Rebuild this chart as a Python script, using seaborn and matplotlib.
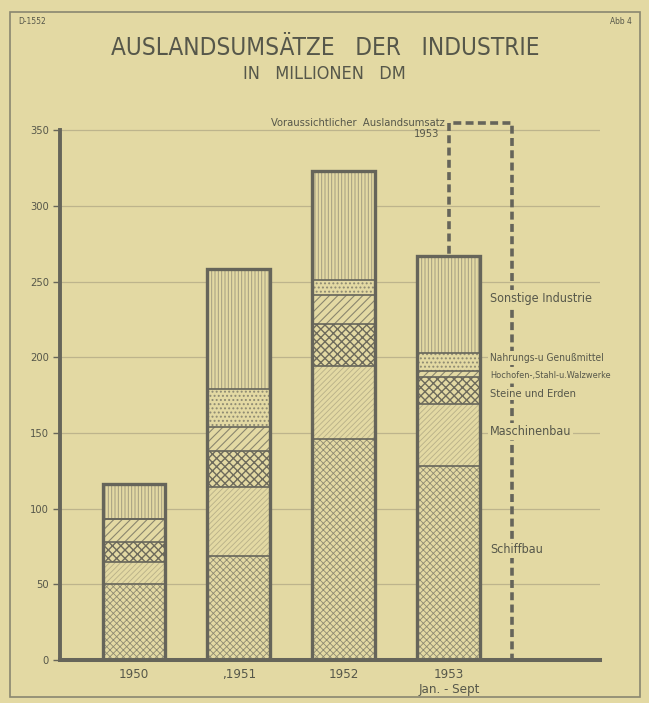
import numpy as np
import pandas as pd
import matplotlib
matplotlib.use("Agg")
import matplotlib.pyplot as plt
import seaborn as sns
from matplotlib.patches import Rectangle

# ---------------- data ----------------
year_labels = ["1950", ",1951", "1952", "1953\nJan. - Sept"]
positions = [0, 1, 2, 3]
categories = ["Schiffbau", "Maschinenbau", "Steine und Erden",
              "Hochofen-,Stahl-u.Walzwerke", "Nahrungs-u Genußmittel",
              "Sonstige Industrie"]
schiffbau = [50, 69, 146, 128]
maschinenbau = [15, 45, 48, 41]
steine = [13, 24, 28, 18]
hochofen = [15, 16, 19, 4]
nahrungs = [0, 25, 10, 12]
sonstige = [23, 79, 72, 64]
projected_1953 = [355]
y_ticks = [0, 50, 100, 150, 200, 250, 300, 350]

# ---------------- style ----------------
BG = "#e3d9a3"
TXT = "#56574a"
EDGE = "#66655a"
GRID = "#bdb48c"

sns.set_theme(style="white")
plt.rcParams["font.family"] = ["DejaVu Sans"]
plt.rcParams["font.stretch"] = "condensed"

fig = plt.figure(figsize=(6.49, 7.03), dpi=100, facecolor=BG)
ax = fig.add_axes([60 / 649, 43 / 703, 540 / 649, 545 / 703])
ax.set_facecolor(BG)

segments = [schiffbau, maschinenbau, steine, hochofen, nahrungs, sonstige]
cum = np.cumsum(np.array(segments, dtype=float), axis=0)

hatches = ["xxxxx", "//////", "xxxx", "////", "....", "|||||"]
hatch_cols = ["#8e8a72", "#b8b088", "#6e6b5b", "#8a866e", "#8e8a72", "#a39d80"]
hatch_lws = [0.6, 0.6, 1.0, 0.8, 0.9, 0.7]

# projected (dashed) bar, drawn behind the 1953 bar
df_proj = pd.DataFrame({"x": [positions[3] + 0.3], "y": projected_1953})
sns.barplot(data=df_proj, x="x", y="y", native_scale=True, width=0.6,
            errorbar=None, fill=False, color=EDGE, edgecolor=EDGE,
            linewidth=2.6, linestyle=(0, (2.2, 1.2)), ax=ax, zorder=2)

# hatched fills, from the top cumulative down
for k in range(len(segments) - 1, -1, -1):
    with plt.rc_context({"hatch.linewidth": hatch_lws[k]}):
        sns.barplot(x=positions, y=cum[k], native_scale=True, width=0.6,
                    errorbar=None, color=BG, facecolor=BG,
                    edgecolor=hatch_cols[k], linewidth=0, hatch=hatches[k],
                    ax=ax, zorder=3)

# outlines
for k in range(len(segments)):
    lw = 2.4 if k == len(segments) - 1 else 1.2
    sns.barplot(x=positions, y=cum[k], native_scale=True, width=0.6,
                errorbar=None, fill=False, color=EDGE, edgecolor=EDGE,
                linewidth=lw, ax=ax, zorder=4)

# axes styling
ax.set_xlim(-0.705, 4.44)
ax.set_ylim(0, 360)
ax.set_yticks(y_ticks)
ax.set_yticklabels([str(v) for v in y_ticks])
ax.set_xticks(positions)
ax.set_xticklabels(year_labels)
ax.set_xlabel("")
ax.set_ylabel("")
ax.grid(axis="y", color=GRID, linewidth=0.9)
ax.grid(axis="x", visible=False)
ax.set_axisbelow(True)
for s in ["top", "right"]:
    ax.spines[s].set_visible(False)
ax.spines["left"].set_bounds(0, 350)
ax.spines["left"].set_linewidth(2.8)
ax.spines["left"].set_color(EDGE)
ax.spines["bottom"].set_linewidth(2.9)
ax.spines["bottom"].set_color(EDGE)
for s in ["left", "bottom"]:
    ax.spines[s].set_zorder(6)
ax.tick_params(axis="y", length=5, width=1, color=EDGE, labelsize=8,
               labelcolor=TXT, pad=3, left=True)
ax.tick_params(axis="x", length=0, labelsize=9.5, labelcolor=TXT, pad=6)

# category labels on the right
label_y = [73, 151, 176, 188, 199.5, 239]
label_size = [9, 9, 8, 6.6, 7.3, 9]
for name, yv, fs in zip(categories, label_y, label_size):
    ax.text(3.39, yv, name, fontsize=fs, color=TXT, ha="left", va="center",
            zorder=5, bbox=dict(facecolor=BG, edgecolor="none", pad=1.2))

ax.text(2.96, 354.5, "Voraussichtlicher  Auslandsumsatz", fontsize=8,
        color=TXT, ha="right", va="center", zorder=5)
ax.text(2.91, 347.5, "1953", fontsize=8, color=TXT, ha="right",
        va="center", zorder=5)

# titles
fig.text(325 / 649, 1 - 48 / 703, "AUSLANDSUMSÄTZE   DER   INDUSTRIE",
         fontsize=17.5, color=TXT, ha="center", va="center")
fig.text(324 / 649, 1 - 74 / 703, "IN   MILLIONEN   DM",
         fontsize=13, color=TXT, ha="center", va="center")
fig.text(18 / 649, 1 - 21 / 703, "D-1552", fontsize=6, color=TXT,
         ha="left", va="center")
fig.text(632 / 649, 1 - 21 / 703, "Abb 4", fontsize=6, color=TXT,
         ha="right", va="center")

# frame
fig.patches.append(Rectangle((10 / 649, 6 / 703), 630 / 649, 685 / 703,
                             transform=fig.transFigure, fill=False,
                             edgecolor="#8a8770", linewidth=1.2))

fig.savefig("out.png", dpi=100, facecolor=BG)
